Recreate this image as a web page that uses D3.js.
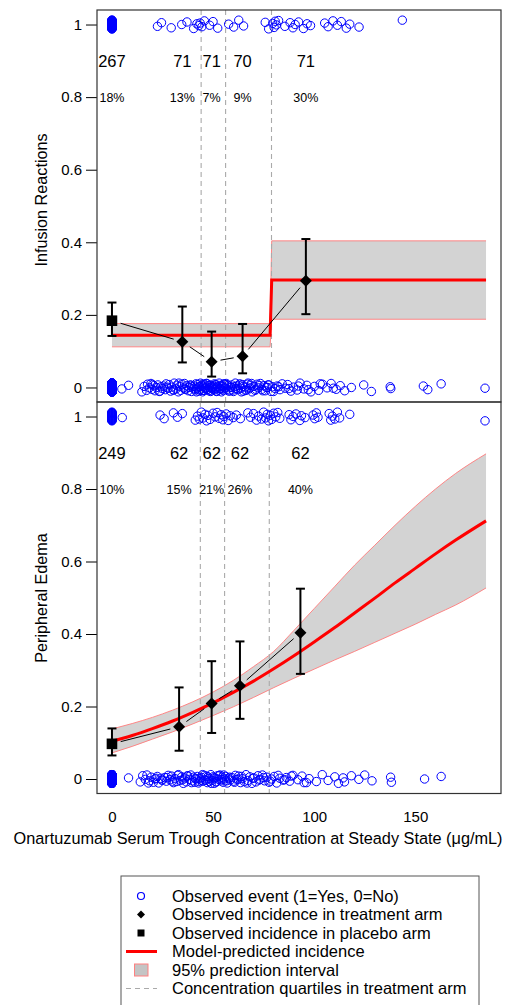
<!DOCTYPE html>
<html>
<head>
<meta charset="utf-8">
<script src="https://cdn.jsdelivr.net/npm/d3@7"></script>
<style>
  body { margin: 0; background: #fff; }
  text { font-family: "Liberation Sans", Arial, Helvetica, sans-serif; }
</style>
</head>
<body>
<script>
// ---- axis ticks ----
const xTicks = [0, 50, 100, 150];
const yTicks = [0, 0.2, 0.4, 0.6, 0.8, 1];
const yTickLabels = ["0", "0.2", "0.4", "0.6", "0.8", "1"];

// ---- Infusion reactions (top panel) ----
const irBinX = [0, 34.8, 49.3, 64.6, 95.9];
const irBinN = ["267", "71", "71", "70", "71"];
const irBinPct = ["18%", "13%", "7%", "9%", "30%"];
const irObs = [0.184, 0.126, 0.071, 0.086, 0.294];
const irObsLo = [0.142, 0.069, 0.030, 0.039, 0.202];
const irObsHi = [0.234, 0.223, 0.154, 0.175, 0.409];
const irQuartiles = [44.1, 56.2, 78.9];
const irModelX = [0, 78.2, 79.0, 185];
const irModelEst = [0.144, 0.144, 0.296, 0.296];
const irModelLo = [0.112, 0.112, 0.188, 0.188];
const irModelHi = [0.176, 0.176, 0.404, 0.404];
const irPlaceboEvents = 48;
const irPlaceboNoEvents = 219;
const irEventX = [22.5, 24.5, 29.3, 34.5, 37.1, 40.4, 42.0, 43.0, 43.6, 44.5, 45.7, 48.3, 50.0, 52.3,
  57.7, 60.2, 62.7, 65.1, 75.8, 77.5, 79.5, 80.2, 80.7, 81.3, 82.4, 85.5, 88.1, 89.5, 90.6, 92.3,
  94.7, 96.5, 98.2, 105.2, 106.9, 109.3, 111.5, 113.4, 115.9, 117.6, 122.2, 143.6];
const irNoEventX = [4.9, 8.2, 14.8, 15.9, 17.1, 17.6, 18.5, 19.3, 19.8, 20.7, 21.3, 22.0, 22.7, 23.4,
  24.2, 24.9, 25.5, 26.4, 26.8, 27.7, 28.3, 29.0, 29.5, 30.3, 30.8, 31.7, 32.1, 32.8, 33.5, 34.0,
  34.6, 35.3, 35.9, 36.4, 37.0, 37.7, 38.1, 38.8, 39.3, 39.7, 40.3, 40.6, 41.2, 41.5, 42.0, 42.3,
  42.8, 43.1, 43.4, 43.8, 44.1, 44.5, 44.8, 45.2, 45.5, 45.8, 46.3, 46.6, 47.1, 47.3, 47.8, 48.1,
  48.6, 48.8, 49.3, 49.6, 50.1, 50.4, 50.7, 51.2, 51.5, 51.8, 52.4, 52.7, 53.0, 53.6, 53.9, 54.2,
  54.8, 55.1, 55.4, 55.9, 56.5, 57.0, 57.5, 58.3, 58.8, 59.3, 60.1, 60.6, 61.3, 61.8, 62.4, 63.2,
  63.7, 64.5, 65.0, 65.9, 66.4, 67.3, 67.8, 68.7, 69.3, 70.2, 70.8, 71.8, 72.4, 73.4, 74.1, 75.1,
  75.8, 76.9, 77.6, 78.7, 79.4, 80.7, 81.7, 83.1, 84.2, 85.7, 86.9, 88.5, 89.8, 91.6, 93.0, 94.9,
  96.4, 98.4, 100.1, 102.2, 104.1, 106.4, 108.4, 110.9, 112.9, 115.1, 118.4, 124.5, 128.3, 137.6,
  137.9, 154.0, 156.2, 162.8, 184.5,
  20.1, 23.8, 27.2, 30.5, 33.1, 36.1, 39.0, 41.8, 43.3, 44.6, 45.0, 46.0, 46.9, 47.5, 48.3, 49.0,
  49.8, 50.9, 51.7, 52.1, 53.3, 54.0, 54.5, 55.3, 55.7, 56.8, 57.8, 59.0, 59.8, 61.0, 62.1, 62.9,
  64.0, 64.8, 66.1, 67.0, 68.2, 69.0, 71.2, 72.9, 74.6, 76.3, 77.2, 79.9, 82.4, 87.5, 92.2, 97.1,
  103.0, 109.5];

// ---- Peripheral edema (bottom panel) ----
const peBinX = [0, 33.2, 49.3, 63.3, 93.2];
const peBinN = ["249", "62", "62", "62", "62"];
const peBinPct = ["10%", "15%", "21%", "26%", "40%"];
const peObs = [0.097, 0.144, 0.2085, 0.257, 0.4035];
const peObsLo = [0.065, 0.078, 0.127, 0.166, 0.290];
const peObsHi = [0.1395, 0.2526, 0.325, 0.3795, 0.525];
const peQuartiles = [43.7, 55.7, 77.8];
const peModelX = [0, 10, 20, 30, 40, 50, 60, 70, 80, 90, 100, 110, 120, 130, 140, 150, 160, 170, 185];
const peModelEst = [0.104, 0.120, 0.139, 0.160, 0.184, 0.210, 0.239, 0.270, 0.304, 0.340, 0.378,
  0.417, 0.458, 0.499, 0.541, 0.581, 0.621, 0.659, 0.712];
const peModelLo = [0.072, 0.090, 0.110, 0.130, 0.152, 0.175, 0.199, 0.225, 0.252, 0.278, 0.303,
  0.328, 0.352, 0.377, 0.402, 0.427, 0.454, 0.480, 0.527];
const peModelHi = [0.138, 0.153, 0.170, 0.190, 0.213, 0.240, 0.272, 0.310, 0.352, 0.410, 0.470,
  0.530, 0.590, 0.645, 0.700, 0.752, 0.800, 0.843, 0.897];
const pePlaceboEvents = 25;
const pePlaceboNoEvents = 224;
const peEventX = [5.1, 23.8, 25.8, 30.4, 32.4, 34.8, 41.2, 42.3, 43.2, 44.2, 45.0, 46.0, 46.8, 47.5,
  48.5, 50.0, 51.0, 52.0, 53.0, 54.0, 54.8, 55.3, 56.5, 57.5, 58.5, 60.0, 61.5, 63.5, 67.2, 68.5,
  70.0, 71.5, 72.5, 74.0, 75.0, 76.0, 76.8, 77.4, 78.3, 79.0, 80.0, 81.0, 82.0, 83.0, 87.6, 88.5,
  89.6, 91.0, 92.9, 93.7, 95.5, 99.5, 100.3, 101.1, 101.9, 107.4, 108.2, 109.0, 110.2, 111.5,
  112.6, 117.6, 184.5];
const peNoEventX = [8.2, 14.0, 15.2, 16.5, 17.3, 18.6, 19.4, 20.5, 21.3, 22.4, 23.1, 24.2, 25.0,
  26.1, 26.9, 27.8, 28.7, 29.5, 30.4, 31.2, 32.0, 32.9, 33.7, 34.5, 35.3, 36.0, 36.8, 37.5, 38.3,
  39.0, 39.7, 40.4, 41.0, 41.6, 42.2, 42.8, 43.4, 44.0, 44.5, 45.0, 45.6, 46.1, 46.7, 47.2, 47.8,
  48.3, 48.9, 49.4, 50.0, 50.6, 51.1, 51.7, 52.2, 52.8, 53.4, 53.9, 54.5, 55.0, 55.6, 56.2, 57.0,
  57.8, 58.6, 59.4, 60.2, 61.0, 61.9, 62.7, 63.6, 64.5, 65.4, 66.3, 67.2, 68.2, 69.2, 70.2, 71.2,
  72.2, 73.3, 74.4, 75.5, 76.6, 77.7, 78.9, 80.2, 81.5, 83.0, 84.6, 86.2, 87.9, 89.5, 92.0, 94.0,
  96.2, 97.5, 101.1, 104.0, 106.9, 110.2, 112.0, 114.3, 115.0, 118.4, 122.1, 125.0, 128.6, 137.8,
  138.2, 154.6, 162.8,
  18.0, 21.8, 24.6, 27.3, 29.9, 32.5, 35.0, 37.2, 39.4, 41.3, 43.0, 44.8, 46.4, 47.5, 49.1, 50.3,
  51.4, 53.0, 54.2, 55.3, 56.6, 58.2, 60.6, 62.3, 64.1, 66.8, 69.7, 72.7, 75.0, 78.3, 82.2, 85.4,
  88.7, 95.0];

// vertical jitter applied to the 0/1 event circles (cycled)
const jitterOffsets = [0.004, -0.006, 0.010, -0.002, 0.008, -0.010, 0.001, -0.007, 0.012, -0.004,
  0.006, -0.012, 0.003, -0.008, 0.009, -0.001, 0.011, -0.005, 0.005, -0.009, 0.000, 0.007, -0.011,
  0.002, -0.003];

const legendLabels = [
  "Observed event (1=Yes, 0=No)",
  "Observed incidence in treatment arm",
  "Observed incidence in placebo arm",
  "Model-predicted incidence",
  "95% prediction interval",
  "Concentration quartiles in treatment arm",
];

const W = 508, H = 1005;
const left = 97, right = 501;

const svg = d3.select("body").append("svg").attr("width", W).attr("height", H);
svg.append("rect").attr("width", W).attr("height", H).attr("fill", "#fff");

const x = d3.scaleLinear().domain([-7.4, 192.4]).range([left, right]);

function drawPanel(p) {
  const y = d3.scaleLinear().domain([-0.04, 1.04]).range([p.bottom, p.top]);
  const g = svg.append("g");

  // prediction band
  const band = p.modelX.map((d, i) => ({ x: d, lo: p.modelLo[i], hi: p.modelHi[i], est: p.modelEst[i] }));
  g.append("path")
    .datum(band)
    .attr("fill", "#d3d3d3")
    .attr("stroke", "none")
    .attr("d", d3.area().curve(p.curve).x((d) => x(d.x)).y0((d) => y(d.lo)).y1((d) => y(d.hi)));
  ["lo", "hi"].forEach((k) => {
    g.append("path")
      .datum(band)
      .attr("fill", "none")
      .attr("stroke", "#ff7a7a")
      .attr("stroke-width", 0.9)
      .attr("d", d3.line().curve(p.curve).x((d) => x(d.x)).y((d) => y(d[k])));
  });

  // quartile lines
  g.selectAll(".q")
    .data(p.quartiles)
    .join("line")
    .attr("x1", (d) => x(d)).attr("x2", (d) => x(d))
    .attr("y1", p.top).attr("y2", p.bottom)
    .attr("stroke", "#aaaaaa")
    .attr("stroke-width", 1.1)
    .attr("stroke-dasharray", "5,4");

  // model line
  g.append("path")
    .datum(band)
    .attr("fill", "none")
    .attr("stroke", "#ff0000")
    .attr("stroke-width", 3)
    .attr("d", d3.line().curve(p.curve).x((d) => x(d.x)).y((d) => y(d.est)));

  // observed events (0/1)
  const pts = [];
  for (let i = 0; i < p.placeboEvents; i++) pts.push({ x: 0, y: 1 });
  for (let i = 0; i < p.placeboNoEvents; i++) pts.push({ x: 0, y: 0 });
  p.eventX.forEach((d) => pts.push({ x: d, y: 1 }));
  p.noEventX.forEach((d) => pts.push({ x: d, y: 0 }));
  g.selectAll(".obs")
    .data(pts)
    .join("circle")
    .attr("cx", (d) => x(d.x))
    .attr("cy", (d, i) => y(d.y + jitterOffsets[i % jitterOffsets.length]))
    .attr("r", 4.2)
    .attr("fill", "none")
    .attr("stroke", "#0000ff")
    .attr("stroke-width", 1);

  // connecting line with gaps round the markers
  const gap = 9;
  for (let i = 0; i < p.binX.length - 1; i++) {
    const x0 = x(p.binX[i]), y0 = y(p.obs[i]);
    const x1 = x(p.binX[i + 1]), y1 = y(p.obs[i + 1]);
    const len = Math.hypot(x1 - x0, y1 - y0);
    if (len <= 2 * gap) continue;
    const ux = (x1 - x0) / len, uy = (y1 - y0) / len;
    g.append("line")
      .attr("x1", x0 + ux * gap).attr("y1", y0 + uy * gap)
      .attr("x2", x1 - ux * gap).attr("y2", y1 - uy * gap)
      .attr("stroke", "#000")
      .attr("stroke-width", 1);
  }

  // error bars
  p.binX.forEach((d, i) => {
    const cx = x(d);
    g.append("line")
      .attr("x1", cx).attr("x2", cx)
      .attr("y1", y(p.obsLo[i])).attr("y2", y(p.obsHi[i]))
      .attr("stroke", "#000").attr("stroke-width", 2);
    [p.obsLo[i], p.obsHi[i]].forEach((v) => {
      g.append("line")
        .attr("x1", cx - 4.5).attr("x2", cx + 4.5)
        .attr("y1", y(v)).attr("y2", y(v))
        .attr("stroke", "#000").attr("stroke-width", 2);
    });
  });

  // markers: square for placebo, diamonds for treatment bins
  p.binX.forEach((d, i) => {
    const cx = x(d), cy = y(p.obs[i]);
    if (i === 0) {
      g.append("rect")
        .attr("x", cx - 5.3).attr("y", cy - 5.3)
        .attr("width", 10.6).attr("height", 10.6)
        .attr("fill", "#000");
    } else {
      const s = 6;
      g.append("path")
        .attr("d", `M${cx},${cy - s}L${cx + s},${cy}L${cx},${cy + s}L${cx - s},${cy}Z`)
        .attr("fill", "#000");
    }
  });

  // counts and percentages
  g.selectAll(".n")
    .data(p.binN)
    .join("text")
    .attr("x", (d, i) => x(p.binX[i]))
    .attr("y", y(0.9))
    .attr("dy", "0.36em")
    .attr("text-anchor", "middle")
    .attr("font-size", 16.5)
    .text((d) => d);
  g.selectAll(".pct")
    .data(p.binPct)
    .join("text")
    .attr("x", (d, i) => x(p.binX[i]))
    .attr("y", y(0.8))
    .attr("dy", "0.36em")
    .attr("text-anchor", "middle")
    .attr("font-size", 12.5)
    .text((d) => d);

  // y axis
  const ax = g.append("g")
    .attr("transform", `translate(${left},0)`)
    .call(d3.axisLeft(y).tickValues(yTicks).tickSize(11).tickSizeOuter(0).tickPadding(4)
      .tickFormat((d, i) => yTickLabels[i]));
  ax.selectAll("text").attr("font-size", 15).attr("fill", "#000")
    .style("font-family", '"Liberation Sans", Arial, sans-serif');
  ax.selectAll("line").attr("stroke", "#000");
  ax.select(".domain").remove();

  // panel box
  g.append("rect")
    .attr("x", left).attr("y", p.top)
    .attr("width", right - left).attr("height", p.bottom - p.top)
    .attr("fill", "none")
    .attr("stroke", "#333")
    .attr("stroke-width", 1.2);

  // y label
  g.append("text")
    .attr("transform", `translate(41,${p.labelY}) rotate(-90)`)
    .attr("text-anchor", "middle")
    .attr("dy", "0.36em")
    .attr("font-size", 16.2)
    .text(p.label);

  return y;
}

drawPanel({
  top: 10, bottom: 402, labelY: 200, label: "Infusion Reactions", curve: d3.curveLinear,
  binX: irBinX, binN: irBinN, binPct: irBinPct, obs: irObs, obsLo: irObsLo, obsHi: irObsHi,
  quartiles: irQuartiles, modelX: irModelX, modelEst: irModelEst, modelLo: irModelLo, modelHi: irModelHi,
  placeboEvents: irPlaceboEvents, placeboNoEvents: irPlaceboNoEvents, eventX: irEventX, noEventX: irNoEventX,
});

drawPanel({
  top: 402, bottom: 793.5, labelY: 598, label: "Peripheral Edema", curve: d3.curveMonotoneX,
  binX: peBinX, binN: peBinN, binPct: peBinPct, obs: peObs, obsLo: peObsLo, obsHi: peObsHi,
  quartiles: peQuartiles, modelX: peModelX, modelEst: peModelEst, modelLo: peModelLo, modelHi: peModelHi,
  placeboEvents: pePlaceboEvents, placeboNoEvents: pePlaceboNoEvents, eventX: peEventX, noEventX: peNoEventX,
});

// x axis (labels only)
const xa = svg.append("g")
  .attr("transform", "translate(0,793.5)")
  .call(d3.axisBottom(x).tickValues(xTicks).tickSize(0).tickPadding(18).tickFormat(d3.format("d")));
xa.select(".domain").remove();
xa.selectAll("text").attr("font-size", 15).attr("fill", "#000")
  .style("font-family", '"Liberation Sans", Arial, sans-serif');

svg.append("text")
  .attr("x", 258)
  .attr("y", 838)
  .attr("dy", "0.36em")
  .attr("text-anchor", "middle")
  .attr("font-size", 16.3)
  .text("Onartuzumab Serum Trough Concentration at Steady State (\u03bcg/mL)");

// legend
const lg = svg.append("g");
lg.append("rect")
  .attr("x", 121).attr("y", 876)
  .attr("width", 358).attr("height", 150)
  .attr("fill", "#fff")
  .attr("stroke", "#555")
  .attr("stroke-width", 1);

const rowY = d3.scalePoint().domain(d3.range(legendLabels.length)).range([896, 988.5]);
const sx = 141;

lg.selectAll(".lt")
  .data(legendLabels)
  .join("text")
  .attr("x", 172)
  .attr("y", (d, i) => rowY(i))
  .attr("dy", "0.36em")
  .attr("font-size", 16.5)
  .text((d) => d);

lg.append("circle").attr("cx", sx).attr("cy", rowY(0)).attr("r", 3.5)
  .attr("fill", "none").attr("stroke", "#0000ff").attr("stroke-width", 1.2);
lg.append("path")
  .attr("d", `M${sx},${rowY(1) - 4}L${sx + 4},${rowY(1)}L${sx},${rowY(1) + 4}L${sx - 4},${rowY(1)}Z`)
  .attr("fill", "#000");
lg.append("rect").attr("x", sx - 3.5).attr("y", rowY(2) - 3.5).attr("width", 7).attr("height", 7)
  .attr("fill", "#000");
lg.append("line").attr("x1", 126).attr("x2", 157).attr("y1", rowY(3)).attr("y2", rowY(3))
  .attr("stroke", "#ff0000").attr("stroke-width", 3);
lg.append("rect").attr("x", 134.5).attr("y", rowY(4) - 6).attr("width", 13.5).attr("height", 12)
  .attr("fill", "#c4c4c4").attr("stroke", "#ff8080").attr("stroke-width", 1);
lg.append("line").attr("x1", 126).attr("x2", 157).attr("y1", rowY(5)).attr("y2", rowY(5))
  .attr("stroke", "#aaaaaa").attr("stroke-width", 1.1).attr("stroke-dasharray", "5,4");
</script>
</body>
</html>
